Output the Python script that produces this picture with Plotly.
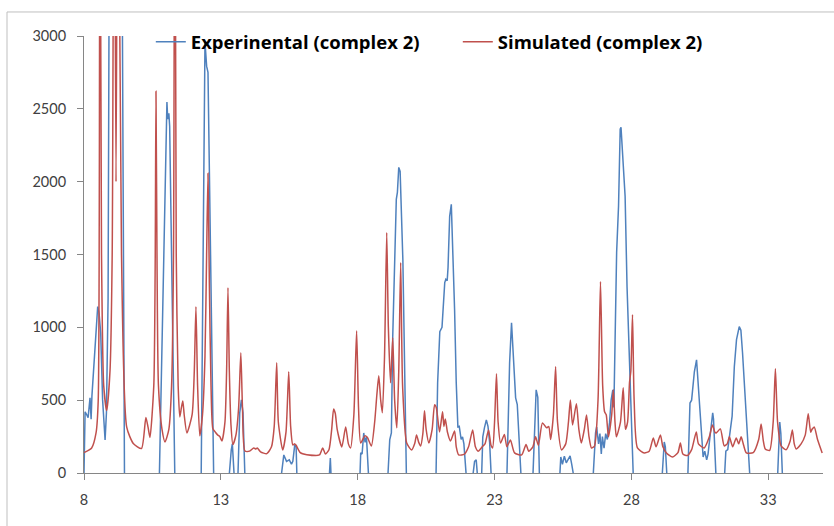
import plotly.graph_objects as go

# ---- data ----
exp_x = [8.00, 8.04, 8.10, 8.15, 8.22, 8.26, 8.29, 8.40, 8.50, 8.55, 8.61, 8.68, 8.72, 8.77, 8.82, 8.88,
         8.93, 9.10, 9.30, 9.40, 9.48, 9.60, 10.70, 10.75, 11.03, 11.06, 11.10, 11.13, 11.32, 11.50,
         12.20, 12.28, 12.42, 12.48, 12.53, 12.74, 13.00, 13.30, 13.35, 13.38, 13.42, 13.45, 13.49,
         13.55, 13.63, 13.69, 13.75, 13.81, 13.88, 14.50, 15.20, 15.30, 15.40, 15.50, 15.58, 15.63,
         15.70, 15.75, 15.78, 16.50, 16.96, 17.00, 17.03, 17.50, 18.08, 18.11, 18.16, 18.22, 18.27,
         18.32, 18.40, 18.80, 19.10, 19.17, 19.23, 19.28, 19.41, 19.45, 19.50, 19.55, 19.65, 19.71,
         19.78, 20.30, 20.86, 20.92, 21.00, 21.08, 21.18, 21.22, 21.27, 21.30, 21.36, 21.42, 21.47,
         21.54, 21.60, 21.66, 21.71, 21.78, 21.83, 21.88, 21.97, 22.10, 22.20, 22.27, 22.33, 22.38,
         22.45, 22.52, 22.57, 22.63, 22.70, 22.76, 22.82, 22.88, 23.20, 23.45, 23.55, 23.62, 23.71,
         23.77, 23.83, 23.90, 23.97, 24.20, 24.40, 24.52, 24.58, 24.64, 24.90, 25.38, 25.42, 25.48,
         25.55, 25.62, 25.70, 25.76, 25.82, 25.90, 26.20, 26.60, 26.69, 26.73, 26.80, 26.85, 26.90,
         26.94, 27.00, 27.06, 27.12, 27.20, 27.26, 27.32, 27.36, 27.40, 27.46, 27.53, 27.59, 27.62,
         27.68, 27.74, 27.77, 27.84, 27.90, 27.93, 28.00, 28.07, 28.50, 29.12, 29.20, 29.24, 29.30,
         29.70, 30.06, 30.14, 30.20, 30.30, 30.38, 30.45, 30.50, 30.56, 30.62, 30.68, 30.75, 30.80,
         30.90, 30.97, 31.00, 31.06, 31.20, 31.40, 31.45, 31.52, 31.64, 31.68, 31.76, 31.84, 31.94,
         32.00, 32.06, 32.12, 32.20, 32.27, 32.33, 32.90, 33.34, 33.42, 33.46, 33.52, 34.00, 35.00]
exp_y = [0, 420, 400, 380, 516, 370, 530, 846, 1142, 1100, 963, 502, 370, 227, 413, 1200,
         4000, 3800, 3500, 3200, -50, -500, -500, -50, 2546, 2429, 2470, 2380, -50, -500,
         -500, -50, 2960, 2793, 2750, -50, -500, -30, 110, 158, 200, 130, -30,
         -500, -30, 413, 502, 413, -30, -500, -30, 124, 80, 90, 60, 80,
         193, 180, -30, -500, -30, 103, -30, -500, -30, 138, 130, 275, 210,
         248, -30, -500, -30, 227, 275, 936, 1878, 1926, 2098, 2070, 1465, 571,
         -30, -500, -30, 619, 970, 1000, 1307, 1330, 1320, 1410, 1762, 1844, 1582,
         1121, 619, 316, 320, 230, 248, 200, -30, -500, -30, 80, 90, -30,
         -500, -30, 248, 310, 365, 320, 210, -30, -500, -30, 757, 1032, 757,
         516, 470, 227, -30, -500, -30, 571, 520, -30, -500, -30, 110, 60,
         115, 70, 100, 117, 60, -30, -500, -30, 275, 316, 200, 270, 130,
         250, 170, 270, 230, 344, 502, 571, 450, 963, 1514, 1833, 2360, 2374,
         2200, 1981, 1900, 1281, 936, 800, 385, -30, -500, -30, 213, 180, -30,
         -500, -30, 480, 500, 695, 777, 570, 450, 248, 110, 150, 90, 130,
         275, 413, 370, -30, -500, -30, 150, 160, 365, 390, 729, 915, 1005,
         980, 826, 619, 365, 150, -30, -500, -30, 350, 270, -30, -500, -500]

sim_x = [8.00, 8.28, 8.44, 8.52, 8.58, 8.64, 8.72, 8.83, 8.95, 9.03, 9.10, 9.17, 9.24, 9.37, 9.56,
         9.80, 10.10, 10.26, 10.34, 10.41, 10.55, 10.60, 10.63, 10.67, 10.72, 10.85, 10.96, 11.10,
         11.20, 11.27, 11.32, 11.37, 11.44, 11.50, 11.56, 11.61, 11.66, 11.76, 11.95, 12.03, 12.09,
         12.15, 12.23, 12.33, 12.42, 12.48, 12.53, 12.58, 12.64, 12.71, 12.80, 12.89, 12.96, 13.04,
         13.15, 13.21, 13.26, 13.31, 13.37, 13.44, 13.55, 13.65, 13.73, 13.79, 13.88, 14.05, 14.20,
         14.28, 14.33, 14.45, 14.68, 14.85, 14.95, 15.04, 15.10, 15.26, 15.38, 15.48, 15.55, 15.63,
         15.70, 15.75, 15.90, 16.14, 16.60, 16.72, 16.82, 16.95, 17.05, 17.12, 17.18, 17.25, 17.42,
         17.56, 17.66, 17.74, 17.86, 17.96, 18.03, 18.11, 18.26, 18.35, 18.50, 18.62, 18.70, 18.77,
         18.84, 18.90, 18.98, 19.06, 19.12, 19.20, 19.28, 19.35, 19.43, 19.50, 19.57, 19.64, 19.79,
         19.97, 20.08, 20.15, 20.23, 20.30, 20.38, 20.44, 20.50, 20.60, 20.72, 20.81, 20.87, 20.99,
         21.10, 21.15, 21.20, 21.28, 21.39, 21.54, 21.60, 21.69, 21.90, 22.05, 22.20, 22.30, 22.40,
         22.55, 22.65, 22.78, 22.87, 22.93, 23.00, 23.07, 23.13, 23.22, 23.36, 23.45, 23.58, 23.73,
         23.99, 24.15, 24.25, 24.40, 24.50, 24.60, 24.75, 24.90, 24.98, 25.05, 25.15, 25.23, 25.30,
         25.45, 25.60, 25.70, 25.77, 25.85, 25.99, 26.08, 26.17, 26.28, 26.36, 26.45, 26.54, 26.65,
         26.78, 26.87, 26.95, 27.02, 27.08, 27.16, 27.28, 27.34, 27.40, 27.45, 27.60, 27.70, 27.78,
         27.86, 27.93, 27.98, 28.04, 28.10, 28.22, 28.47, 28.65, 28.80, 28.90, 29.06, 29.15, 29.28,
         29.50, 29.70, 29.79, 29.88, 30.05, 30.20, 30.37, 30.45, 30.66, 30.85, 30.96, 31.05, 31.10,
         31.25, 31.39, 31.50, 31.58, 31.70, 31.83, 31.92, 32.01, 32.10, 32.20, 32.45, 32.65, 32.74,
         32.82, 32.89, 33.05, 33.18, 33.26, 33.34, 33.47, 33.65, 33.80, 33.88, 33.95, 34.02, 34.20,
         34.35, 34.46, 34.55, 34.60, 34.68, 34.80, 34.97]
sim_y = [140, 172, 275, 500, 5000, 1500, 600, 429, 700, 1500, 5000, 2000, 5000, 1500, 315,
         203, 168, 381, 315, 244, 600, 1400, 2621, 1400, 600, 300, 213, 300,
         600, 1500, 5000, 1500, 600, 385, 450, 495, 400, 275, 400, 700, 1142,
         600, 255, 400, 800, 1500, 2057, 1300, 600, 303, 280, 260, 250, 220,
         350, 700, 1272, 700, 330, 195, 260, 450, 826, 450, 151, 150, 172,
         165, 172, 145, 133, 180, 320, 757, 350, 158, 280, 695, 320, 193,
         200, 190, 140, 126, 124, 172, 130, 160, 300, 440, 410, 300, 179,
         316, 200, 172, 400, 977, 450, 206, 255, 245, 186, 350, 537, 667,
         500, 413, 800, 1651, 1000, 619, 929, 500, 310, 700, 1445, 600, 206,
         158, 200, 261, 210, 186, 270, 427, 300, 206, 300, 468, 450, 282,
         420, 320, 371, 280, 220, 289, 180, 124, 130, 180, 296, 180, 150,
         180, 200, 296, 190, 172, 350, 681, 350, 206, 265, 180, 227, 138,
         124, 195, 150, 180, 248, 190, 344, 310, 320, 230, 400, 729, 350,
         158, 200, 350, 502, 330, 475, 300, 206, 300, 399, 250, 172, 185,
         500, 1314, 600, 420, 400, 248, 400, 571, 350, 248, 350, 585, 300,
         350, 620, 700, 1087, 500, 172, 138, 150, 241, 180, 261, 180, 138,
         110, 140, 206, 130, 120, 160, 282, 200, 172, 250, 330, 280, 275,
         303, 186, 200, 248, 180, 241, 200, 248, 190, 138, 140, 230, 337,
         220, 165, 155, 350, 716, 350, 186, 160, 220, 296, 200, 165, 200,
         260, 406, 280, 300, 316, 230, 138]

x_ticks = [8, 13, 18, 23, 28, 33]
y_ticks = [0, 500, 1000, 1500, 2000, 2500, 3000]

fig = go.Figure()
fig.add_trace(go.Scatter(x=exp_x, y=exp_y, mode="lines", name="Experinental (complex 2)",
                         line=dict(color="#4F81BD", width=1.5)))
fig.add_trace(go.Scatter(x=sim_x, y=sim_y, mode="lines", name="Simulated (complex 2)",
                         line=dict(color="#C0504D", width=1.5, shape="spline", smoothing=0.6)))

border_top = 1 + 24 / 436.5
border_left = (7 - 84) / 739

fig.update_layout(
    width=834, height=526,
    margin=dict(l=84, r=11, t=36, b=53),
    paper_bgcolor="white", plot_bgcolor="white",
    font=dict(family="Lato, 'Open Sans', sans-serif", size=14.5, color="#404040"),
    showlegend=True,
    legend=dict(orientation="h", x=0.0904, y=0.986, xanchor="left", yanchor="middle",
                bgcolor="rgba(0,0,0,0)", itemwidth=30, entrywidth=262,
                font=dict(family="'Open Sans', sans-serif", size=18.5, color="#000000", weight="bold")),
    xaxis=dict(range=[8, 35], tickvals=x_ticks, showgrid=False, zeroline=False,
               showline=True, linecolor="#868686", linewidth=1,
               ticks="outside", ticklen=6, tickcolor="#868686", ticklabelstandoff=8),
    yaxis=dict(range=[0, 3000], tickvals=y_ticks, showgrid=False, zeroline=False,
               showline=True, linecolor="#868686", linewidth=1,
               ticks="outside", ticklen=6, tickcolor="#868686", ticklabelstandoff=8),
    shapes=[
        dict(type="line", xref="paper", yref="paper", x0=border_left, x1=1 + 11 / 739,
             y0=border_top, y1=border_top, line=dict(color="#BFBFBF", width=1), layer="below"),
        dict(type="line", xref="paper", yref="paper", x0=border_left, x1=border_left,
             y0=border_top, y1=-53 / 436.5, line=dict(color="#BFBFBF", width=1), layer="below"),
    ],
)

fig.write_html("out.html")
